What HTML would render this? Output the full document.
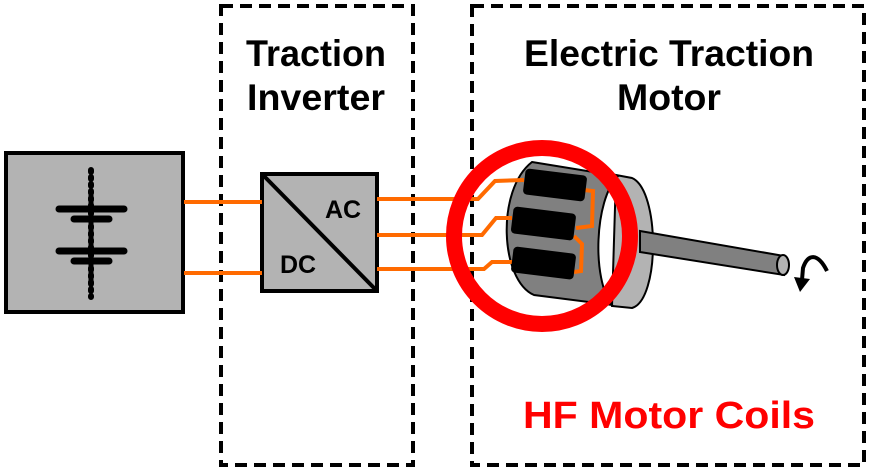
<!DOCTYPE html>
<html><head><style>html,body{margin:0;padding:0;background:#fff;}svg{display:block}</style></head>
<body>
<svg width="870" height="471" viewBox="0 0 870 471" xmlns="http://www.w3.org/2000/svg">
<g font-family="Liberation Sans, Arial, sans-serif" font-weight="bold">
<rect x="221" y="6" width="192" height="459" fill="none" stroke="#000" stroke-width="4" stroke-dasharray="12,7"/>
<rect x="472" y="6" width="392" height="459" fill="none" stroke="#000" stroke-width="4" stroke-dasharray="12,7"/>
<text x="316" y="66" font-size="37" text-anchor="middle" textLength="140" lengthAdjust="spacingAndGlyphs">Traction</text>
<text x="316" y="110" font-size="37" text-anchor="middle" textLength="138" lengthAdjust="spacingAndGlyphs">Inverter</text>
<text x="669" y="66" font-size="37" text-anchor="middle" textLength="290" lengthAdjust="spacingAndGlyphs">Electric Traction</text>
<text x="669" y="110" font-size="37" text-anchor="middle" textLength="104" lengthAdjust="spacingAndGlyphs">Motor</text>
<!-- battery -->
<rect x="6" y="153" width="177" height="159" fill="#b3b3b3" stroke="#000" stroke-width="4"/>
<g stroke="#000" stroke-linecap="round" fill="none">
<line x1="91" y1="170" x2="91" y2="297" stroke-width="6" stroke-dasharray="2,5"/>
<line x1="91" y1="195" x2="91" y2="285" stroke-width="5"/>
<line x1="59" y1="209" x2="124" y2="209" stroke-width="7"/>
<line x1="74" y1="219" x2="109" y2="219" stroke-width="7"/>
<line x1="59" y1="251" x2="124" y2="251" stroke-width="7"/>
<line x1="74" y1="261" x2="109" y2="261" stroke-width="7"/>
</g>
<!-- converter -->
<rect x="262" y="174" width="115" height="117" fill="#b3b3b3" stroke="#000" stroke-width="4"/>
<line x1="262" y1="174" x2="377" y2="291" stroke="#000" stroke-width="4"/>
<text x="343" y="218" font-size="25" text-anchor="middle">AC</text>
<text x="298" y="273" font-size="25" text-anchor="middle">DC</text>
<!-- back disc -->
<path d="M616,175 L632,178 C660,190 660,300 632,308 L612,306 Z" fill="#b3b3b3" stroke="#000" stroke-width="2"/>
<!-- shaft -->
<polygon points="640,231 784,256 784,275 640,252" fill="#808080" stroke="#000" stroke-width="2"/>
<ellipse cx="783" cy="265" rx="6" ry="10" fill="#b3b3b3" stroke="#000" stroke-width="2"/>
<!-- body -->
<path d="M532,162 L618,176 C594,200 592,280 612,305 L534,295 C500,280 496,190 532,162 Z" fill="#808080" stroke="#000" stroke-width="2"/>
<!-- wires -->
<g stroke="#ff6a00" stroke-width="4" fill="none">
<line x1="184" y1="202" x2="262" y2="202"/>
<line x1="184" y1="273" x2="262" y2="273"/>
<polyline points="377,199 478,199 495,181 524,180"/>
<polyline points="377,235 482,235 496,218 512,218"/>
<polyline points="377,269 484,269 492,262 512,262"/>
<polyline points="584,190 593,191 592,226 576,228"/>
<polyline points="574,236 582,244 581,271 574,272"/>
</g>
<!-- coils -->
<g fill="#000">
<rect x="524" y="172" width="62" height="26" rx="4" transform="rotate(7 555 185)"/>
<rect x="512" y="210" width="63" height="27" rx="4" transform="rotate(7 543 223)"/>
<rect x="512" y="250" width="63" height="26" rx="4" transform="rotate(7 543 263)"/>
</g>
<circle cx="542" cy="236" r="88" fill="none" stroke="#ff0000" stroke-width="16"/>
<!-- rotation arrow -->
<path d="M827,271 C818,253 808,253 803,268 L802,280" fill="none" stroke="#000" stroke-width="4"/>
<polygon points="794,277 810,279 800,292" fill="#000"/>
<text x="669" y="428" font-size="38" fill="#ff0000" text-anchor="middle" textLength="292" lengthAdjust="spacingAndGlyphs">HF Motor Coils</text>
</g>
</svg>
</body></html>
